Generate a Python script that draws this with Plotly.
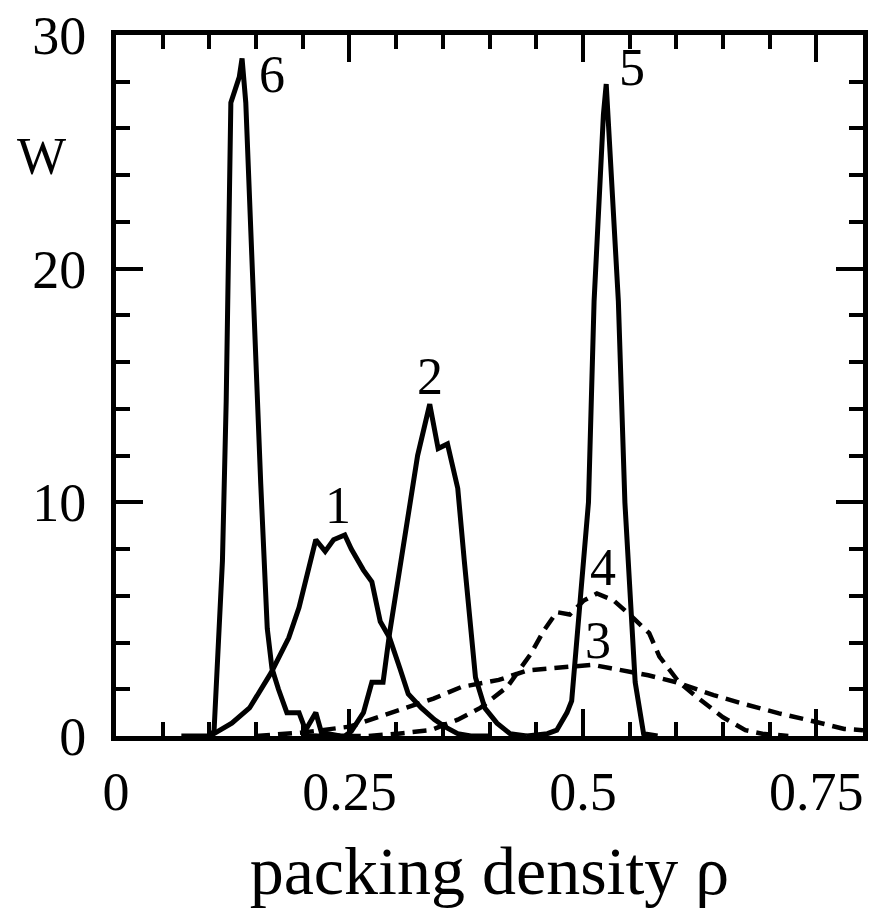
import plotly.graph_objects as go

# Curve 1 (solid)
x1 = [0.10, 0.105, 0.124, 0.143, 0.166, 0.185, 0.196, 0.206, 0.214, 0.224, 0.233, 0.245, 0.252, 0.265, 0.274, 0.283, 0.293, 0.304, 0.313, 0.327, 0.341, 0.352, 0.366, 0.38, 0.40]
y1 = [0.0, 0.1, 0.55, 1.2, 2.7, 4.2, 5.5, 7.2, 8.4, 7.9, 8.4, 8.6, 8.0, 7.1, 6.6, 4.9, 4.2, 2.9, 1.8, 1.2, 0.7, 0.4, 0.1, 0.0, 0.0]

# Curve 2 (solid)
x2 = [0.20, 0.245, 0.252, 0.265, 0.274, 0.286, 0.293, 0.304, 0.315, 0.323, 0.336, 0.345, 0.355, 0.366, 0.373, 0.380, 0.385, 0.395, 0.408, 0.422, 0.44]
y2 = [0.0, 0.0, 0.2, 1.0, 2.3, 2.3, 4.4, 7.2, 10.3, 12.0, 14.2, 12.3, 12.5, 10.6, 7.5, 4.8, 2.5, 1.2, 0.55, 0.1, 0.0]

# Curve 3 (dashed)
x3 = [0.15, 0.20, 0.25, 0.28, 0.30, 0.34, 0.37, 0.41, 0.44, 0.48, 0.51, 0.53, 0.57, 0.60, 0.64, 0.67, 0.71, 0.75, 0.78, 0.80]
y3 = [0.0, 0.15, 0.4, 0.8, 1.1, 1.6, 2.1, 2.4, 2.8, 2.95, 3.05, 2.9, 2.6, 2.3, 1.75, 1.4, 0.97, 0.6, 0.3, 0.25]

# Curve 4 (dashed)
x4 = [0.20, 0.27, 0.302, 0.337, 0.366, 0.39, 0.419, 0.444, 0.458, 0.472, 0.486, 0.501, 0.515, 0.533, 0.550, 0.571, 0.582, 0.603, 0.621, 0.65, 0.674, 0.692, 0.72]
y4 = [0.0, 0.0, 0.1, 0.25, 0.7, 1.2, 2.1, 3.5, 4.5, 5.3, 5.2, 5.8, 6.1, 5.8, 5.2, 4.4, 3.4, 2.3, 1.7, 0.8, 0.25, 0.1, 0.0]

# Curve 5 (solid)
x5 = [0.44, 0.462, 0.472, 0.483, 0.488, 0.496, 0.506, 0.512, 0.522, 0.525, 0.527, 0.538, 0.545, 0.552, 0.556, 0.565, 0.58]
y5 = [0.0, 0.1, 0.25, 1.0, 1.5, 5.4, 10.0, 18.6, 26.6, 27.9, 26.6, 18.6, 10.0, 5.4, 2.3, 0.1, 0.0]

# Curve 6 (solid)
x6 = [0.07, 0.100, 0.105, 0.114, 0.118, 0.120, 0.123, 0.132, 0.135, 0.139, 0.147, 0.151, 0.155, 0.162, 0.167, 0.174, 0.183, 0.196, 0.203, 0.214, 0.220, 0.24]
y6 = [0.0, 0.0, 0.2, 7.5, 14.3, 18.9, 27.1, 28.2, 29.0, 27.1, 18.9, 14.3, 10.8, 4.6, 2.9, 2.0, 1.0, 1.0, 0.25, 1.0, 0.15, 0.0]

labels = ["1", "2", "3", "4", "5", "6"]
label_x = [0.238, 0.336, 0.516, 0.522, 0.553, 0.167]
label_y = [9.87, 15.4, 4.09, 7.19, 28.6, 28.3]

x_tickvals = [0, 0.25, 0.5, 0.75]
x_ticktext = ["0", "0.25", "0.5", "0.75"]
y_tickvals = [0, 10, 20, 30]

FONT = "Liberation Serif, Times New Roman, serif"
solid = dict(color="black", width=5)
dashed = dict(color="black", width=4.5, dash="14px,8px")

fig = go.Figure()
for xs, ys, ln in [(x3, y3, dashed), (x4, y4, dashed), (x1, y1, solid), (x2, y2, solid), (x5, y5, solid), (x6, y6, solid)]:
    fig.add_trace(go.Scatter(x=xs, y=ys, mode="lines", line=ln, showlegend=False, hoverinfo="skip"))

for t, lx, ly in zip(labels, label_x, label_y):
    fig.add_annotation(x=lx, y=ly, xref="x", yref="y", text=t, showarrow=False,
                       font=dict(family=FONT, size=52, color="black"), xanchor="center", yanchor="middle")

fig.add_annotation(x=-0.1, y=0.827, xref="paper", yref="paper", text="W", showarrow=False,
                   font=dict(family=FONT, size=52, color="black"), xanchor="center", yanchor="middle")

fig.update_layout(
    width=874, height=909,
    margin=dict(l=116, r=6, t=31, b=173),
    paper_bgcolor="white", plot_bgcolor="white",
    font=dict(family=FONT, color="black"),
    xaxis=dict(range=[0, 0.8], tickvals=x_tickvals, ticktext=x_ticktext,
               ticks="inside", ticklen=27, tickwidth=4, tickcolor="black",
               minor=dict(dtick=0.05, tick0=0, ticks="inside", ticklen=14, tickwidth=4, tickcolor="black"),
               showline=True, linecolor="black", linewidth=5, mirror="ticks",
               showgrid=False, zeroline=False,
               tickfont=dict(family=FONT, size=54, color="black"),
               ticklabelstandoff=4,
               title=dict(text="packing density ρ", font=dict(family=FONT, size=68, color="black"), standoff=32)),
    yaxis=dict(range=[0, 30], tickvals=y_tickvals,
               ticks="inside", ticklen=27, tickwidth=4, tickcolor="black",
               minor=dict(dtick=2, tick0=0, ticks="inside", ticklen=14, tickwidth=4, tickcolor="black"),
               showline=True, linecolor="black", linewidth=5, mirror="ticks",
               showgrid=False, zeroline=False,
               ticklabelstandoff=14,
               tickfont=dict(family=FONT, size=54, color="black")),
)

fig.write_html("out.html")
